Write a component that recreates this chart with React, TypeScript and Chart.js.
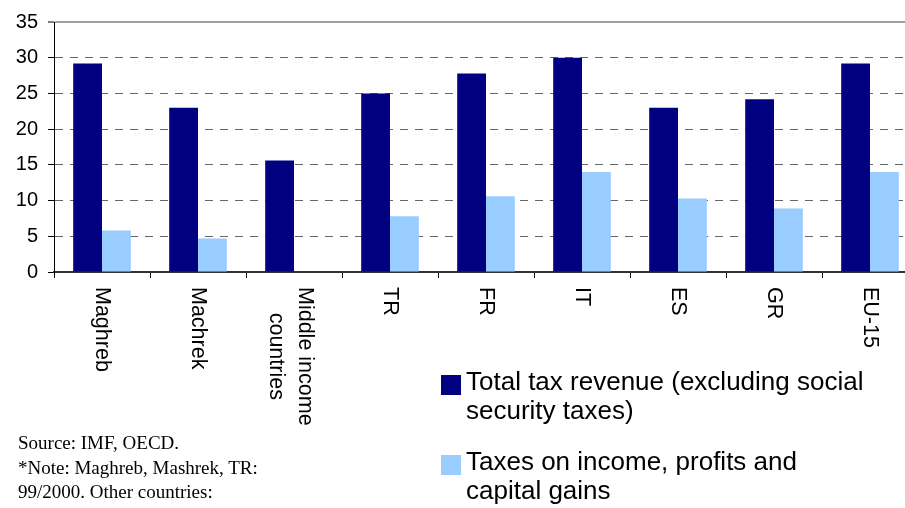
import React, { useEffect, useRef } from "react";
import { Chart, registerables } from "chart.js";

Chart.register(...registerables);

const categories: (string | string[])[] = [
  "Maghreb",
  "Machrek",
  ["Middle income", "countries"],
  "TR",
  "FR",
  "IT",
  "ES",
  "GR",
  "EU-15",
];
const totalTaxRevenue: (number | null)[] = [29.2, 23.0, 15.6, 25.0, 27.8, 30.0, 23.0, 24.2, 29.2];
const incomeProfitTaxes: (number | null)[] = [5.8, 4.7, null, 7.8, 10.6, 14.0, 10.3, 8.9, 14.0];
const seriesLabels = [
  "Total tax revenue (excluding social security taxes)",
  "Taxes on income, profits and capital gains",
];
const legendLines = [
  ["Total tax revenue (excluding social", "security taxes)"],
  ["Taxes on income, profits and", "capital gains"],
];
const seriesColors = ["#000080", "#99ccff"];
const yTicks = { min: 0, max: 35, step: 5 };
const noteLines = ["Source: IMF, OECD.", "*Note: Maghreb, Mashrek, TR:", "99/2000. Other countries:"];

const SANS = '"Liberation Sans", Arial, Helvetica, sans-serif';
const SERIF = '"Liberation Serif", "Times New Roman", serif';

const CANVAS_W = 930;
const CANVAS_H = 508;

const rotatedLabels = {
  id: "rotatedLabels",
  afterDraw(chart: any) {
    const scale = chart.scales.x;
    const ctx = chart.ctx as CanvasRenderingContext2D;
    const LH = 29;
    ctx.save();
    ctx.font = `21.5px ${SANS}`;
    ctx.fillStyle = "#000";
    ctx.textBaseline = "middle";
    ctx.textAlign = "center";
    const top = scale.top + 15;
    (chart.data.labels as any[]).forEach((lab, i) => {
      const lines: string[] = Array.isArray(lab) ? lab : [lab];
      const x = scale.getPixelForTick(i);
      const maxW = Math.max(...lines.map((l) => ctx.measureText(l).width));
      const shift = (lines.length - 1) * 4;
      ctx.save();
      ctx.translate(x, top);
      ctx.rotate(Math.PI / 2);
      lines.forEach((l, j) => {
        ctx.fillText(l, maxW / 2, (j - (lines.length - 1) / 2) * LH + shift);
      });
      ctx.restore();
    });
    ctx.restore();
  },
};

export default function App() {
  const ref = useRef<HTMLCanvasElement | null>(null);

  useEffect(() => {
    if (!ref.current) return;
    const chart = new Chart(ref.current, {
      type: "bar",
      data: {
        labels: categories as any,
        datasets: [
          {
            label: seriesLabels[0],
            data: totalTaxRevenue,
            backgroundColor: seriesColors[0],
            borderWidth: 0,
            categoryPercentage: 0.6,
            barPercentage: 1.0,
          },
          {
            label: seriesLabels[1],
            data: incomeProfitTaxes,
            backgroundColor: seriesColors[1],
            borderWidth: 0,
            categoryPercentage: 0.6,
            barPercentage: 1.0,
          },
        ],
      },
      options: {
        responsive: false,
        animation: false,
        devicePixelRatio: 1,
        layout: { padding: { top: 20, right: CANVAS_W - 918, left: 0, bottom: 0 } },
        plugins: {
          legend: { display: false },
          tooltip: { enabled: false },
          title: { display: false },
        },
        scales: {
          x: {
            offset: true,
            ticks: { display: false },
            grid: {
              offset: true,
              drawOnChartArea: false,
              drawTicks: true,
              tickLength: 6,
              tickColor: "#000",
              tickWidth: 1,
            },
            border: { display: true, color: "#333", width: 2 },
            afterFit: (scale: any) => {
              scale.height = CANVAS_H - 272;
            },
          },
          y: {
            min: yTicks.min,
            max: yTicks.max,
            ticks: {
              stepSize: yTicks.step,
              color: "#000",
              font: { family: SANS, size: 20 },
              padding: 10,
            },
            grid: {
              drawTicks: true,
              tickLength: 6,
              tickColor: "#000",
              tickWidth: 1,
              color: (ctx: any) => {
                const v = ctx.tick ? ctx.tick.value : null;
                if (v === yTicks.max) return "#a0a0a0";
                if (v === yTicks.min) return "rgba(0,0,0,0)";
                return "#666";
              },
              lineWidth: (ctx: any) => (ctx.tick && ctx.tick.value === yTicks.max ? 2 : 1),
            },
            border: {
              display: true,
              color: "#000",
              width: 1,
              dash: (ctx: any) => {
                if (!ctx.tick) return [];
                const v = ctx.tick.value;
                if (v === yTicks.max || v === yTicks.min) return [];
                return [8, 7];
              },
            } as any,
            afterFit: (scale: any) => {
              scale.width = 54;
            },
          },
        },
      },
      plugins: [rotatedLabels],
    });
    return () => chart.destroy();
  }, []);

  const legendSquareTop = [375, 455];
  const legendTextTop = [367, 447];

  return (
    <div
      style={{
        position: "absolute",
        left: 0,
        top: 0,
        width: 905,
        height: 508,
        overflow: "hidden",
        background: "#fff",
      }}
    >
      <canvas
        ref={ref}
        width={CANVAS_W}
        height={CANVAS_H}
        style={{ position: "absolute", left: 0, top: 0, width: CANVAS_W, height: CANVAS_H }}
      />
      {legendLines.map((lines, i) => (
        <div key={i}>
          <div
            style={{
              position: "absolute",
              left: 441,
              top: legendSquareTop[i],
              width: 20,
              height: 20,
              background: seriesColors[i],
            }}
          />
          <div
            style={{
              position: "absolute",
              left: 466,
              top: legendTextTop[i],
              fontFamily: SANS,
              fontSize: 26,
              lineHeight: "28.5px",
              color: "#000",
              whiteSpace: "nowrap",
            }}
          >
            {lines.map((l, j) => (
              <div key={j}>{l}</div>
            ))}
          </div>
        </div>
      ))}
      <div
        style={{
          position: "absolute",
          left: 18,
          top: 431,
          fontFamily: SERIF,
          fontSize: 19,
          lineHeight: "24.5px",
          color: "#000",
          whiteSpace: "nowrap",
        }}
      >
        {noteLines.map((l, j) => (
          <div key={j}>{l}</div>
        ))}
      </div>
    </div>
  );
}
